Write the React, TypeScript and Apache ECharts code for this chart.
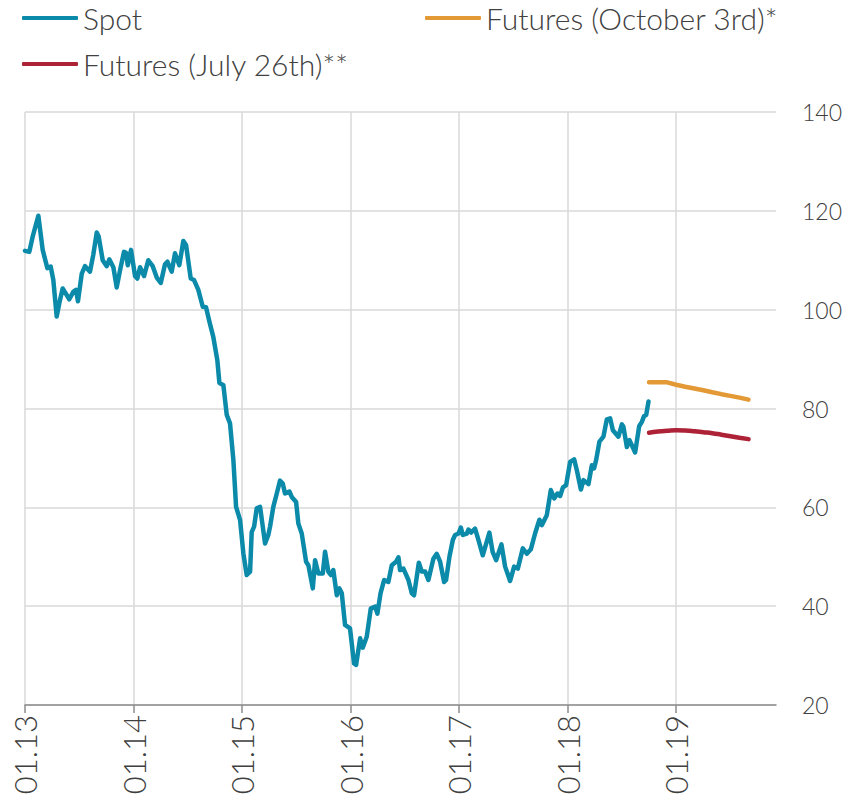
import React, { useEffect, useRef } from 'react';
import * as echarts from 'echarts';

// Spot price: time in decimal years, value
const spotYears = [
  2013.000, 2013.040, 2013.071, 2013.092, 2013.123, 2013.163, 2013.206, 2013.237, 2013.261, 2013.292,
  2013.316, 2013.347, 2013.408, 2013.445, 2013.470, 2013.488, 2013.523, 2013.553, 2013.599, 2013.629,
  2013.661, 2013.679, 2013.716, 2013.753, 2013.777, 2013.814, 2013.845, 2013.876, 2013.912, 2013.931,
  2013.947, 2013.977, 2014.014, 2014.035, 2014.060, 2014.097, 2014.136, 2014.177, 2014.214, 2014.251,
  2014.290, 2014.312, 2014.352, 2014.382, 2014.422, 2014.459, 2014.484, 2014.527, 2014.558, 2014.597,
  2014.638, 2014.668, 2014.699, 2014.735, 2014.772, 2014.791, 2014.828, 2014.859, 2014.889, 2014.920,
  2014.945, 2014.982, 2015.012, 2015.043, 2015.074, 2015.089, 2015.111, 2015.135, 2015.166, 2015.212,
  2015.242, 2015.258, 2015.288, 2015.320, 2015.350, 2015.375, 2015.396, 2015.436, 2015.458, 2015.498,
  2015.519, 2015.550, 2015.590, 2015.611, 2015.652, 2015.673, 2015.703, 2015.744, 2015.765, 2015.795,
  2015.818, 2015.841, 2015.873, 2015.897, 2015.919, 2015.949, 2015.995, 2016.032, 2016.051, 2016.088,
  2016.112, 2016.149, 2016.186, 2016.226, 2016.247, 2016.276, 2016.309, 2016.348, 2016.380, 2016.419,
  2016.441, 2016.456, 2016.487, 2016.533, 2016.564, 2016.585, 2016.629, 2016.656, 2016.687, 2016.717,
  2016.763, 2016.794, 2016.825, 2016.862, 2016.880, 2016.911, 2016.942, 2016.963, 2016.994, 2017.016,
  2017.034, 2017.071, 2017.086, 2017.111, 2017.147, 2017.178, 2017.218, 2017.279, 2017.309, 2017.341,
  2017.390, 2017.424, 2017.470, 2017.507, 2017.541, 2017.587, 2017.624, 2017.661, 2017.700, 2017.740,
  2017.762, 2017.808, 2017.845, 2017.876, 2017.906, 2017.931, 2017.956, 2017.986, 2018.023, 2018.060,
  2018.085, 2018.122, 2018.146, 2018.192, 2018.223, 2018.244, 2018.263, 2018.293, 2018.330, 2018.361,
  2018.392, 2018.417, 2018.468, 2018.500, 2018.514, 2018.546, 2018.570, 2018.622, 2018.659, 2018.684,
  2018.705, 2018.724, 2018.745,
];
const spotValues = [
  111.9, 111.7, 114.8, 116.5, 119.0, 112.1, 108.4, 108.7, 106.0, 98.6,
  101.3, 104.3, 102.1, 103.6, 104.0, 101.7, 107.3, 108.8, 107.7, 111.1,
  115.6, 114.8, 110.0, 108.8, 110.2, 108.6, 104.5, 108.0, 111.7, 111.5,
  109.0, 112.1, 106.8, 106.3, 108.6, 106.8, 110.0, 108.8, 106.5, 105.4,
  109.2, 109.7, 107.7, 111.4, 109.0, 113.9, 113.1, 106.3, 106.0, 104.0,
  100.6, 100.5, 97.6, 94.5, 89.8, 85.2, 84.7, 78.7, 77.0, 69.6,
  60.1, 57.4, 50.7, 46.3, 47.0, 55.0, 56.1, 59.8, 60.1, 52.7,
  54.4, 56.1, 60.1, 62.8, 65.4, 64.8, 62.8, 63.2, 62.1, 61.1,
  56.7, 54.7, 49.0, 48.3, 43.6, 49.3, 46.6, 46.6, 51.0, 47.0,
  46.3, 47.3, 42.2, 43.6, 42.6, 36.2, 35.5, 28.4, 28.1, 33.5,
  31.6, 33.8, 39.5, 39.9, 38.5, 42.6, 45.3, 44.9, 48.3, 49.0,
  49.9, 47.3, 47.6, 45.3, 42.6, 42.2, 48.8, 47.0, 47.0, 45.3,
  49.6, 50.6, 49.0, 44.9, 45.3, 50.0, 53.4, 54.4, 54.7, 55.9,
  54.4, 54.7, 55.5, 54.9, 55.7, 53.4, 50.3, 54.9, 51.0, 49.3,
  52.5, 48.0, 45.1, 48.0, 47.6, 51.7, 50.6, 51.5, 54.7, 57.5,
  56.4, 58.4, 63.5, 61.8, 62.8, 62.3, 64.0, 64.5, 69.2, 69.7,
  67.5, 63.6, 65.5, 64.7, 68.5, 67.9, 69.6, 73.3, 74.3, 77.8,
  78.0, 75.6, 74.3, 76.8, 76.3, 72.2, 73.6, 71.1, 76.4, 77.3,
  78.5, 78.7, 81.4,
];

// Futures curves: monthly contracts Oct 2018 .. Sep 2019
const futuresMonths = [
  2018.750, 2018.833, 2018.917, 2019.000, 2019.083, 2019.167,
  2019.250, 2019.333, 2019.417, 2019.500, 2019.583, 2019.667,
];
const futuresOct3 = [85.3, 85.3, 85.3, 84.8, 84.4, 84.05, 83.7, 83.3, 82.9, 82.55, 82.2, 81.8];
const futuresJul26 = [75.1, 75.35, 75.5, 75.6, 75.55, 75.4, 75.2, 75.0, 74.7, 74.4, 74.1, 73.8];

const yearTicks = [2013, 2014, 2015, 2016, 2017, 2018, 2019];
const xMin = 2013;
const xMax = 2019.92;
const yMin = 20;
const yMax = 140;
const yStep = 20;

const seriesNames = ['Spot', 'Futures (October 3rd)*', 'Futures (July 26th)**'];
const colors = ['#0b8aa9', '#e39a36', '#ad2236'];

const FONT = 'Lato, "Open Sans", sans-serif';
const TEXT = '#404040';

export default function App() {
  const ref = useRef<HTMLDivElement>(null);
  useEffect(() => {
    const chart = echarts.init(ref.current!, null, { renderer: 'svg' });
    const zip = (xs: number[], ys: number[]) => xs.map((x, i) => [x, ys[i]]);
    const legendBase = {
      icon: 'roundRect',
      itemWidth: 56,
      itemHeight: 4,
      textStyle: { fontFamily: FONT, fontSize: 30, fontWeight: 300, color: TEXT },
      selectedMode: false,
      padding: 0,
    };
    chart.setOption({
      animation: false,
      color: colors,
      legend: [
        { ...legendBase, data: [seriesNames[0]], left: 22, top: 3 },
        { ...legendBase, data: [seriesNames[1]], left: 425, top: 3 },
        { ...legendBase, data: [seriesNames[2]], left: 22, top: 49 },
      ],
      grid: { left: 25, right: 83, top: 112, bottom: 93 },
      xAxis: {
        type: 'value',
        min: xMin,
        max: xMax,
        interval: 1,
        axisLine: { show: true, lineStyle: { color: '#8c8c8c', width: 1.5 } },
        axisTick: {
          show: true,
          length: 8,
          customValues: yearTicks,
          lineStyle: { color: '#8c8c8c', width: 1.5 },
        },
        axisLabel: {
          customValues: yearTicks,
          rotate: 90,
          margin: 10,
          fontFamily: FONT,
          fontSize: 31,
          fontWeight: 300,
          color: TEXT,
          formatter: (v: number) => '01.' + String(Math.round(v)).slice(2, 4),
        },
        splitLine: { show: true, lineStyle: { color: '#d9d9d9', width: 1.5 } },
      },
      yAxis: {
        type: 'value',
        position: 'right',
        min: yMin,
        max: yMax,
        interval: yStep,
        axisLine: { show: false },
        axisTick: { show: false },
        axisLabel: {
          margin: 26,
          fontFamily: FONT,
          fontSize: 23,
          fontWeight: 300,
          color: TEXT,
        },
        splitLine: { show: true, lineStyle: { color: '#d9d9d9', width: 1.5 } },
      },
      series: [
        {
          name: seriesNames[0],
          type: 'line',
          data: zip(spotYears, spotValues),
          showSymbol: false,
          lineStyle: { width: 4.5, color: colors[0], join: 'round', cap: 'round' },
          itemStyle: { color: colors[0] },
        },
        {
          name: seriesNames[1],
          type: 'line',
          data: zip(futuresMonths, futuresOct3),
          showSymbol: false,
          lineStyle: { width: 4.5, color: colors[1], cap: 'round' },
          itemStyle: { color: colors[1] },
        },
        {
          name: seriesNames[2],
          type: 'line',
          smooth: true,
          data: zip(futuresMonths, futuresJul26),
          showSymbol: false,
          lineStyle: { width: 4.5, color: colors[2], cap: 'round' },
          itemStyle: { color: colors[2] },
        },
      ],
    });
    return () => chart.dispose();
  }, []);
  return (
    <div
      ref={ref}
      style={{ position: 'fixed', left: 0, top: 0, width: 859, height: 798, background: '#fff' }}
    />
  );
}
